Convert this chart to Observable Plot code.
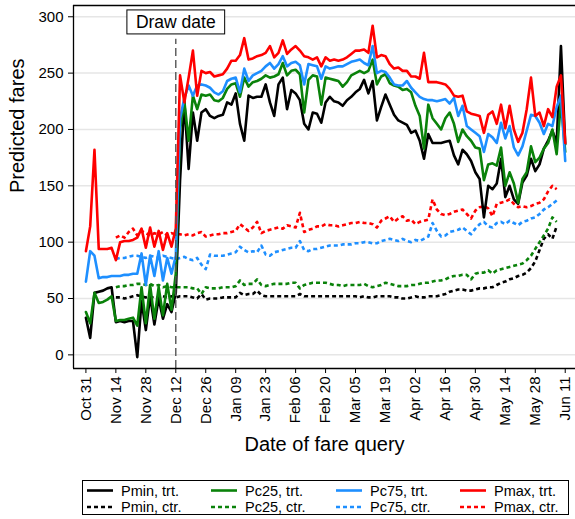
<!DOCTYPE html>
<html>
<head>
<meta charset="utf-8">
<script src="https://cdn.jsdelivr.net/npm/d3@7"></script>
<script src="https://cdn.jsdelivr.net/npm/@observablehq/plot@0.6"></script>
<style>
  html, body { margin: 0; padding: 0; background: #fff; }
  #wrap { position: relative; width: 575px; height: 519px; font-family: Arial, "Liberation Sans", Helvetica, sans-serif; }
  #chart svg { display: block; }
  #legend { position: absolute; left: 82px; top: 480px; width: 487px; height: 35px; border: 1px solid #000; box-sizing: border-box; background: #fff; }
  #legend svg { display: block; }
</style>
</head>
<body>
<div id="wrap">
  <div id="chart"></div>
  <div id="legend"></div>
</div>
<script>
// Query dates: one observation every second day from Oct 31, 2015 to Jun 11, 2016
const DAY = 864e5;
const firstDay = Date.UTC(2015, 9, 31);
const dayOffsets = d3.range(0, 225, 2);
const queryDates = dayOffsets.map(d => new Date(firstDay + d * DAY));
// Control-route fares are observed from Nov 14 to Jun 7
const ctrDates = queryDates.filter((d, i) => dayOffsets[i] >= 14 && dayOffsets[i] <= 220);

const drawDate = new Date(Date.UTC(2015, 11, 12));

const tickDates = ["2015-10-31", "2015-11-14", "2015-11-28", "2015-12-12", "2015-12-26",
  "2016-01-09", "2016-01-23", "2016-02-06", "2016-02-20", "2016-03-05", "2016-03-19",
  "2016-04-02", "2016-04-16", "2016-04-30", "2016-05-14", "2016-05-28", "2016-06-11"]
  .map(s => new Date(s + "T00:00:00Z"));
const yTicks = [0, 50, 100, 150, 200, 250, 300];

// Treated routes
const pminTrt = [33, 15, 55, 56, 57, 59, 60, 29, 30, 29, 30, 30, -2, 48, 22, 52, 27, 50, 32, 45, 38, 55,
  155, 225, 165, 215, 190, 215, 218, 212, 210, 212, 213, 224, 222, 232, 205, 190, 230, 228, 229, 229,
  240, 224, 212, 240, 246, 218, 235, 232, 226, 205, 200, 215, 214, 206, 224, 229, 225, 224, 221, 226, 229, 233, 236,
  244, 232, 243, 208, 220, 231, 222, 213, 208, 206, 204, 197, 199, 190, 174, 196, 188, 188, 188, 189, 190, 177, 169,
  182, 178, 172, 162, 156, 122, 150, 147, 152, 174, 140, 150, 138, 134, 153, 159, 174, 163, 169, 183, 190, 199, 188, 274, 187];
const pc25Trt = [38, 28, 55, 46, 47, 49, 52, 30, 31, 31, 32, 33, 26, 60, 28, 62, 32, 60, 35, 63, 40, 72,
  200, 225, 190, 230, 218, 231, 230, 231, 226, 225, 228, 236, 240, 241, 229, 246, 238, 242, 243, 245,
  248, 246, 247, 249, 259, 248, 252, 253, 249, 215, 244, 248, 247, 222, 246, 245, 244, 243, 238, 242, 248, 250, 252,
  250, 252, 262, 240, 247, 249, 241, 239, 238, 235, 236, 233, 221, 212, 183, 222, 210, 205, 200, 210, 215, 205, 189,
  200, 194, 190, 184, 183, 155, 169, 170, 168, 184, 150, 162, 152, 135, 156, 162, 185, 171, 175, 183, 188, 200, 178, 225, 180];
const pc75Trt = [65, 92, 88, 68, 69, 69, 70, 70, 70, 71, 71, 72, 72, 90, 62, 88, 70, 92, 66, 86, 72, 88,
  210, 228, 239, 230, 239, 240, 239, 237, 233, 231, 234, 243, 245, 246, 233, 254, 243, 248, 250, 252,
  256, 259, 254, 258, 265, 256, 259, 260, 257, 240, 258, 257, 256, 245, 256, 254, 255, 256, 256, 258, 260, 261, 262,
  259, 257, 274, 250, 252, 251, 246, 240, 239, 239, 243, 237, 233, 229, 227, 226, 226, 225, 226, 227, 223, 228, 212,
  221, 203, 200, 197, 194, 180, 196, 193, 188, 206, 192, 203, 184, 177, 185, 199, 213, 212, 206, 196, 205, 203, 220, 230, 172];
const pmaxTrt = [92, 114, 182, 94, 94, 94, 95, 84, 100, 101, 101, 102, 104, 112, 95, 113, 96, 110, 93, 108, 96, 112,
  248, 224, 246, 270, 230, 252, 250, 251, 247, 248, 249, 254, 261, 261, 266, 281, 262, 263, 265, 266,
  268, 274, 264, 268, 279, 267, 271, 274, 270, 265, 264, 262, 264, 256, 264, 261, 262, 261, 262, 264, 267, 270, 270,
  271, 268, 292, 264, 266, 265, 258, 254, 255, 252, 252, 247, 247, 245, 268, 242, 242, 242, 241, 240, 236, 230, 229,
  230, 216, 214, 213, 212, 197, 213, 216, 205, 222, 201, 221, 200, 189, 197, 218, 246, 212, 215, 203, 218, 211, 238, 248, 188];

// Control routes
const pminCtr = [51, 51, 50, 51, 52, 53, 52, 51, 52, 50, 51, 52, 51, 52, 51,
  52, 52, 52, 51, 50, 54, 49, 50, 50, 50, 51, 51, 51, 51, 55, 53, 54, 54, 57, 53,
  52, 52, 52, 52, 52, 52, 52, 52, 54, 52, 52, 52, 52, 52, 52, 52, 52, 52, 52, 52, 52, 52, 51,
  52, 51, 51, 52, 52, 52, 52, 51, 51, 50, 50, 51, 52, 51, 51, 52, 52, 52, 53, 54, 56, 57, 58,
  58, 57, 57, 58, 59, 59, 60, 60, 62, 64, 65, 67, 68, 70, 71, 73, 77, 83, 93, 103, 107, 103, 114];
const pc25Ctr = [60, 61, 61, 62, 62, 63, 63, 62, 63, 61, 62, 60, 61, 60, 60,
  60, 60, 60, 59, 59, 54, 60, 59, 59, 59, 60, 60, 60, 61, 66, 62, 63, 63, 67, 62,
  61, 62, 63, 63, 63, 63, 64, 64, 59, 62, 63, 64, 64, 64, 64, 63, 62, 62, 61, 62, 62, 62, 62,
  63, 61, 60, 61, 62, 64, 63, 62, 61, 61, 61, 62, 62, 63, 64, 64, 65, 66, 66, 67, 69, 70, 70,
  71, 71, 67, 72, 73, 73, 75, 72, 75, 76, 77, 78, 79, 80, 81, 84, 88, 94, 100, 106, 112, 122, 118];
const pc75Ctr = [85, 86, 86, 87, 88, 88, 87, 86, 88, 87, 86, 88, 87, 86, 85,
  86, 87, 85, 84, 86, 80, 76, 89, 88, 88, 88, 89, 90, 91, 96, 93, 91, 92, 91, 97,
  89, 88, 91, 92, 93, 94, 95, 95, 101, 93, 92, 94, 94, 95, 96, 97, 97, 97, 98, 98, 98, 99, 99,
  100, 100, 99, 99, 101, 102, 103, 102, 101, 103, 101, 100, 102, 101, 103, 105, 117, 110, 105, 106, 109, 110, 111,
  113, 110, 107, 112, 116, 118, 114, 113, 117, 118, 116, 119, 117, 115, 118, 119, 121, 122, 125, 129, 131, 134, 137];
const pmaxCtr = [104, 106, 104, 109, 112, 106, 110, 108, 106, 108, 107, 109, 106, 108, 107,
  107, 106, 107, 106, 108, 109, 105, 106, 107, 107, 108, 108, 109, 110, 116, 113, 110, 113, 118, 108,
  110, 111, 112, 113, 112, 115, 114, 113, 126, 109, 111, 112, 114, 114, 116, 115, 115, 114, 115, 116, 117, 117, 118,
  117, 117, 116, 113, 119, 121, 123, 118, 121, 123, 119, 120, 116, 118, 119, 120, 138, 129, 125, 124, 125, 127, 128,
  129, 125, 121, 128, 131, 132, 130, 123, 134, 135, 136, 138, 134, 131, 132, 131, 132, 134, 135, 138, 145, 150, 147];

const seriesNames = ["Pmin, trt.", "Pc25, trt.", "Pc75, trt.", "Pmax, trt.",
                     "Pmin, ctr.", "Pc25, ctr.", "Pc75, ctr.", "Pmax, ctr."];
const seriesColors = ["#000000", "#0a820a", "#1e8fff", "#ff0000"];

const DASH = "4,3";
const series = [
  { name: seriesNames[0], dates: queryDates, values: pminTrt, color: seriesColors[0], dash: null },
  { name: seriesNames[1], dates: queryDates, values: pc25Trt, color: seriesColors[1], dash: null },
  { name: seriesNames[2], dates: queryDates, values: pc75Trt, color: seriesColors[2], dash: null },
  { name: seriesNames[3], dates: queryDates, values: pmaxTrt, color: seriesColors[3], dash: null },
  { name: seriesNames[4], dates: ctrDates, values: pminCtr, color: seriesColors[0], dash: DASH },
  { name: seriesNames[5], dates: ctrDates, values: pc25Ctr, color: seriesColors[1], dash: DASH },
  { name: seriesNames[6], dates: ctrDates, values: pc75Ctr, color: seriesColors[2], dash: DASH },
  { name: seriesNames[7], dates: ctrDates, values: pmaxCtr, color: seriesColors[3], dash: DASH }
];
const rows = s => s.dates.map((date, i) => ({ date, fare: s.values[i] }));

const xDomain = [new Date(firstDay - 5.8 * DAY), new Date(Date.UTC(2016, 5, 11) + 4.8 * DAY)];
const yDomain = [-12.1, 310];

const FONT = "Arial, 'Liberation Sans', Helvetica, sans-serif";

const lineMarks = (list) => list.map(s => Plot.line(rows(s), {
  x: "date", y: "fare", stroke: s.color, strokeWidth: 2.6,
  strokeDasharray: s.dash, strokeLinejoin: "round", strokeLinecap: s.dash ? "butt" : "round"
}));

const chart = Plot.plot({
  width: 575,
  height: 470,
  marginLeft: 73,
  marginRight: 0,
  marginTop: 5,
  marginBottom: 102,
  style: { fontFamily: FONT, fontSize: "15px", color: "#000", background: "#fff" },
  x: { type: "utc", domain: xDomain },
  y: { domain: yDomain },
  marks: [
    Plot.gridY(yTicks, { stroke: "#e6e6e6", strokeOpacity: 1, strokeWidth: 1.5 }),
    ...lineMarks(series.slice(4)),
    ...lineMarks(series.slice(0, 4)),
    Plot.ruleX([drawDate], { y1: yDomain[0], y2: 280, stroke: "#555", strokeWidth: 1.4, strokeDasharray: "8,4" }),
    Plot.text(["Draw date"], { frameAnchor: "top", x: () => drawDate, dy: 10, fontSize: 17.5, fill: "#000", className: "drawlabel" }),
    Plot.axisY(yTicks, { tickSize: 5, tickPadding: 5, fontSize: 15, label: null, stroke: "#000" }),
    Plot.axisX(tickDates, { tickSize: 5, tickPadding: 3, tickRotate: -90, fontSize: 15, label: null,
      tickFormat: d3.utcFormat("%b %d") }),
    Plot.text(["Predicted fares"], { frameAnchor: "left", dx: -56, dy: 6, rotate: -90, fontSize: 20, fill: "#000" }),
    Plot.text(["Date of fare query"], { frameAnchor: "bottom", dx: 0, dy: 82, fontSize: 20, fill: "#000" }),
    Plot.ruleY([yDomain[0]], { stroke: "#000", strokeWidth: 1.3 }),
    Plot.ruleY([yDomain[1]], { stroke: "#000", strokeWidth: 1.3 }),
    Plot.ruleX([xDomain[0]], { stroke: "#000", strokeWidth: 1.3 })
  ]
});
document.getElementById("chart").appendChild(chart);

// White boxed label for the draw date
{
  const svg = d3.select(chart);
  const g = svg.select("g.drawlabel");
  const t = g.select("text");
  const node = t.node();
  if (node) {
    const b = node.getBBox();
    g.insert("rect", "text")
      .attr("transform", t.attr("transform"))
      .attr("x", b.x - 9).attr("y", b.y - 2)
      .attr("width", b.width + 18).attr("height", b.height + 4)
      .attr("fill", "#fff").attr("stroke", "#000").attr("stroke-width", 1);
  }
}

// Legend: two rows (treated / control), four columns
{
  const W = 485, H = 33;
  const lg = d3.select("#legend").append("svg").attr("width", W).attr("height", H);
  const colX = [4, 128, 253, 377];
  const rowY = [9.5, 26];
  series.forEach((s, i) => {
    const c = i % 4, r = Math.floor(i / 4);
    const x0 = colX[c];
    lg.append("line").attr("x1", x0).attr("x2", x0 + 26).attr("y1", rowY[r]).attr("y2", rowY[r])
      .attr("stroke", s.color).attr("stroke-width", 2.6).attr("stroke-dasharray", s.dash);
    lg.append("text").attr("x", x0 + 34).attr("y", rowY[r]).attr("dy", "0.36em")
      .attr("font-size", 14.5).attr("font-family", FONT)
      .text(s.name);
  });
}
</script>
</body>
</html>
